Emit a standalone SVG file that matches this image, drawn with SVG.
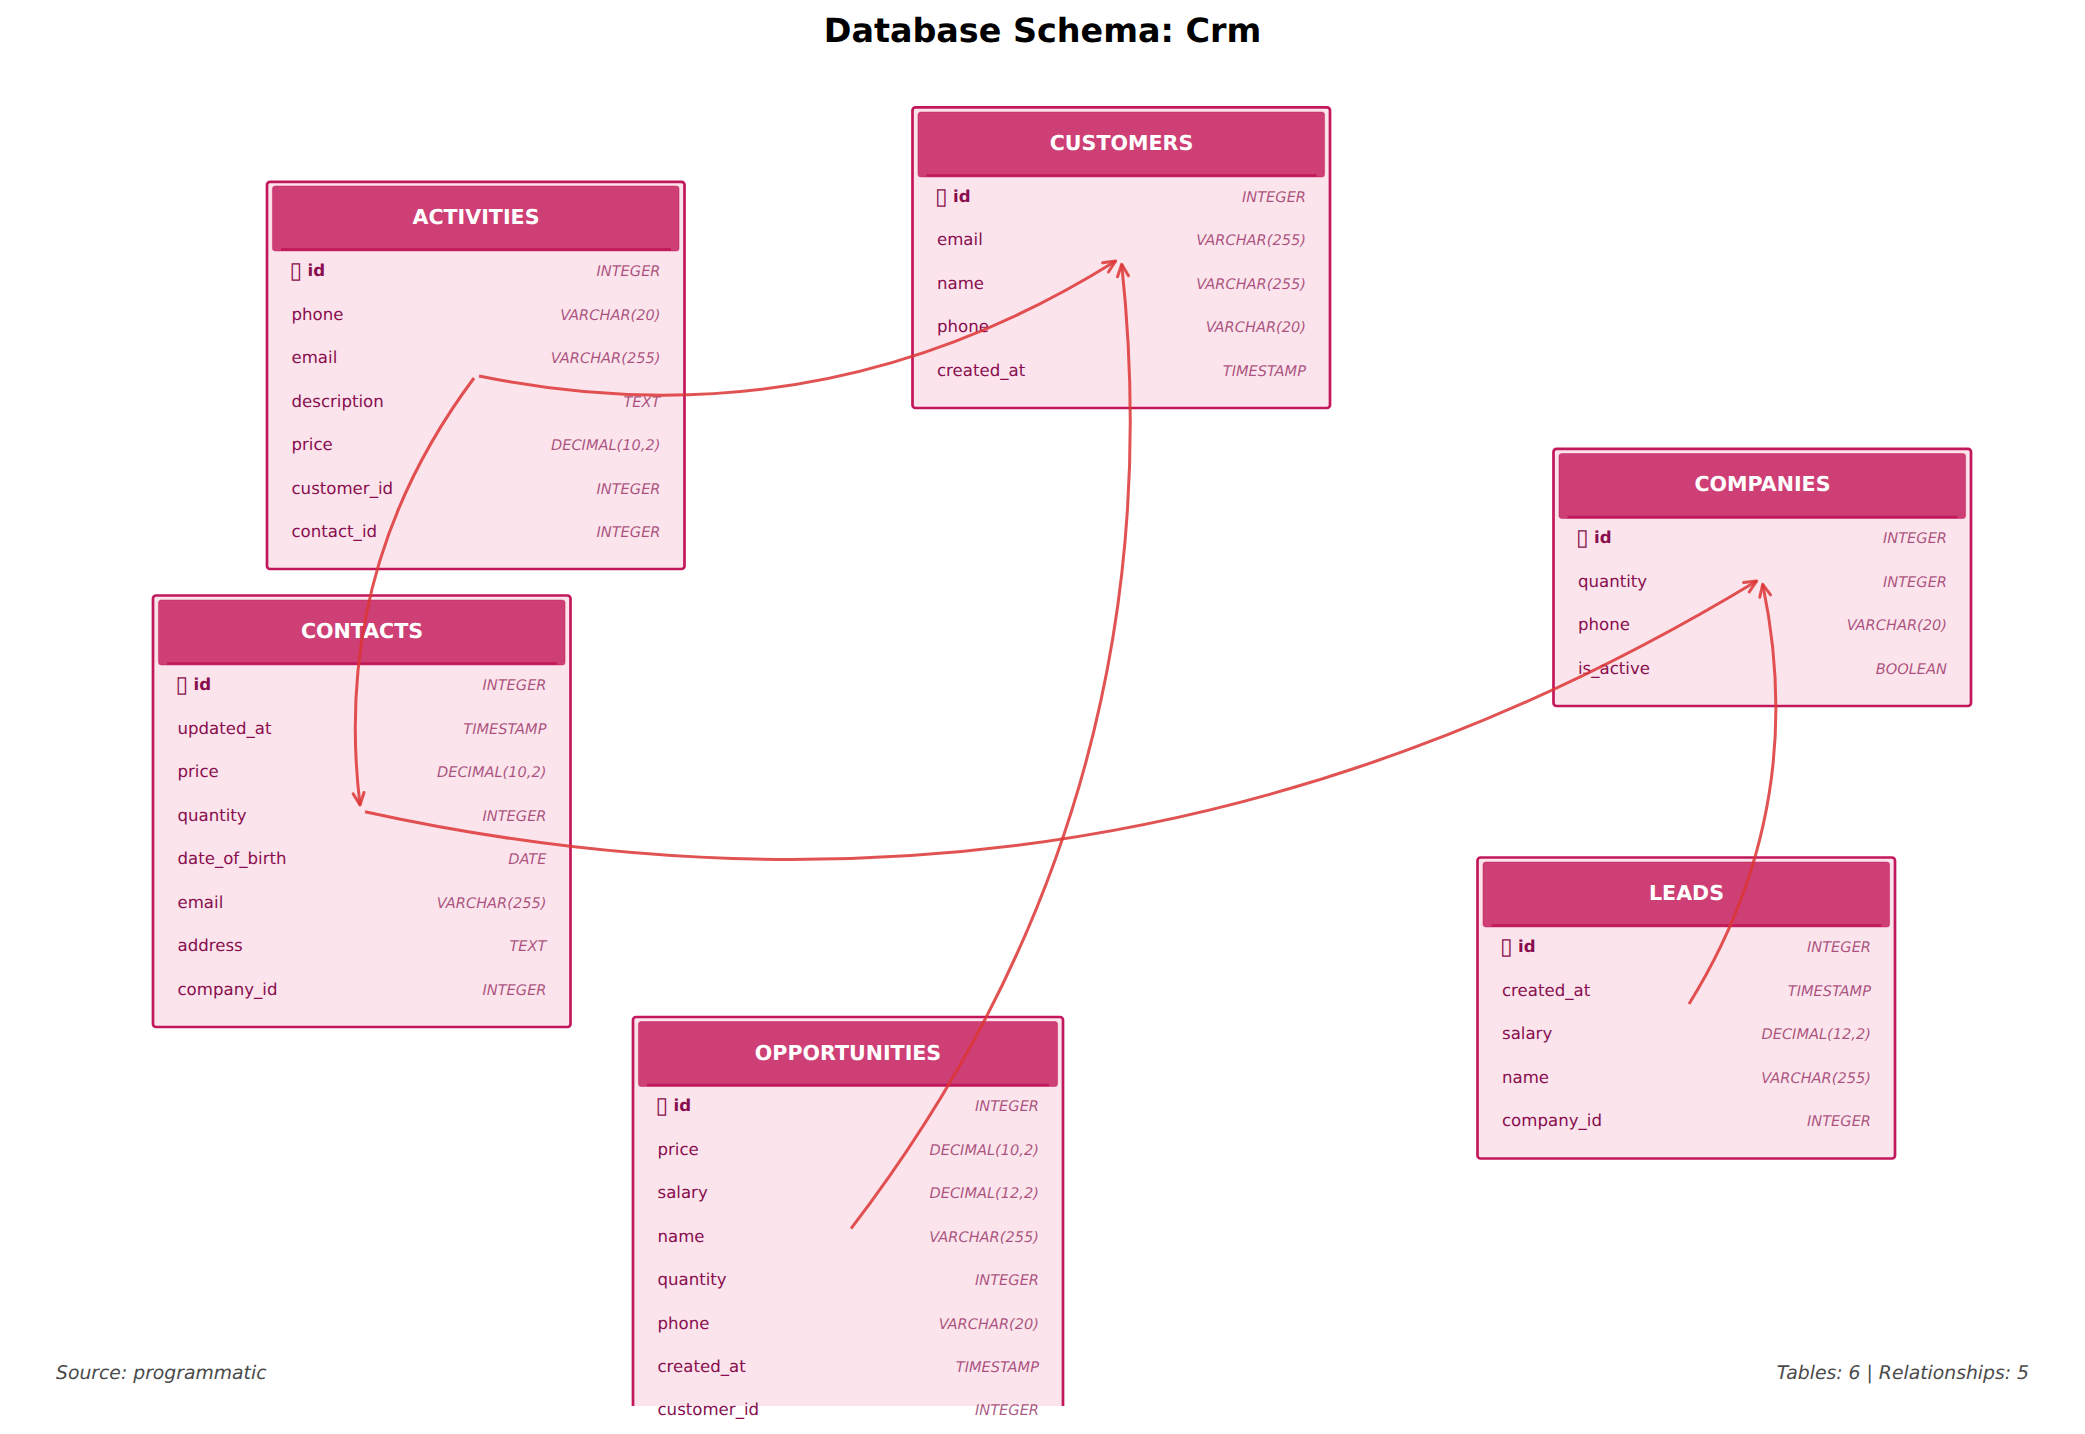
<svg xmlns="http://www.w3.org/2000/svg" width="2085" height="1434" viewBox="0 0 2085 1434">
<style>
text{font-family:"DejaVu Sans",sans-serif;text-rendering:geometricPrecision}
.box{fill:#fce4ec;stroke:#c2185b;stroke-width:2.7}
.hd{fill:#ce3f76;stroke:#c2185b;stroke-opacity:.45;stroke-width:1.2}
.hl{stroke:#c2185b;stroke-width:2.7;fill:none}
.ht{fill:#fff;font-weight:700;font-size:20.6px;text-anchor:middle}
.pk{fill:#880e4f;font-weight:700;font-size:16.6px}
.tf{font-weight:400;font-size:23px}
.f{fill:#880e4f;font-size:16.6px}
.ty{fill:#880e4f;fill-opacity:.7;font-style:italic;font-size:14.6px;text-anchor:end}
.c{fill:none;stroke:#dc3535;stroke-opacity:.85;stroke-width:3;marker-end:url(#ah)}
.foot{fill:#4a4a4a;font-style:italic;font-size:18.8px}
</style>
<defs>
<marker id="ah" markerUnits="userSpaceOnUse" markerWidth="30" markerHeight="30" refX="15" refY="15" orient="auto" overflow="visible"><path d="M3,9.500L15,15L3,20.500" fill="none" stroke="#dc3535" stroke-opacity=".85" stroke-width="3" stroke-linecap="round" stroke-linejoin="round"/></marker>
<clipPath id="cut"><rect x="0" y="0" width="2085" height="1406"/></clipPath>
</defs>
<rect width="2085" height="1434" fill="#fff"/>
<text x="1042.5" y="42" text-anchor="middle" font-size="33.4" font-weight="700" fill="#000">Database Schema: Crm</text>
<g id="activities" transform="translate(267,181)">
<rect class="box" y=".8" width="417.5" height="387.200" rx="3"/><rect class="hd" x="5.500" y="5" width="406.500" height="65" rx="3"/><path class="hl" d="M14,68.500H404"/>
<text class="ht" x="209" y="43">ACTIVITIES</text>
<text class="pk" x="22.500" y="95"><tspan class="tf" dy="2">▯</tspan><tspan x="40.500" dy="-2">id</tspan></text><text class="ty" x="393.500" y="95">INTEGER</text>
<text class="f" x="24.500" y="138.500">phone</text><text class="ty" x="393.500" y="138.500">VARCHAR(20)</text>
<text class="f" x="24.500" y="182">email</text><text class="ty" x="393.500" y="182">VARCHAR(255)</text>
<text class="f" x="24.500" y="225.500">description</text><text class="ty" x="393.500" y="225.500">TEXT</text>
<text class="f" x="24.500" y="269">price</text><text class="ty" x="393.500" y="269">DECIMAL(10,2)</text>
<text class="f" x="24.500" y="312.500">customer_id</text><text class="ty" x="393.500" y="312.500">INTEGER</text>
<text class="f" x="24.500" y="356">contact_id</text><text class="ty" x="393.500" y="356">INTEGER</text>
</g>
<g id="customers" transform="translate(912.500,106.500)">
<rect class="box" y=".8" width="417.5" height="300.700" rx="3"/><rect class="hd" x="5.500" y="5.500" width="406.500" height="65" rx="3"/><path class="hl" d="M14,69H404"/>
<text class="ht" x="209" y="43.300">CUSTOMERS</text>
<text class="pk" x="22.500" y="95"><tspan class="tf" dy="2">▯</tspan><tspan x="40.500" dy="-2">id</tspan></text><text class="ty" x="393.500" y="95">INTEGER</text>
<text class="f" x="24.500" y="138.500">email</text><text class="ty" x="393.500" y="138.500">VARCHAR(255)</text>
<text class="f" x="24.500" y="182">name</text><text class="ty" x="393.500" y="182">VARCHAR(255)</text>
<text class="f" x="24.500" y="225.500">phone</text><text class="ty" x="393.500" y="225.500">VARCHAR(20)</text>
<text class="f" x="24.500" y="269">created_at</text><text class="ty" x="393.500" y="269">TIMESTAMP</text>
</g>
<g id="companies" transform="translate(1553.500,448)">
<rect class="box" y=".8" width="417.5" height="257.200" rx="3"/><rect class="hd" x="5.500" y="5.500" width="406.500" height="65" rx="3"/><path class="hl" d="M14,69H404"/>
<text class="ht" x="209" y="43.300">COMPANIES</text>
<text class="pk" x="22.500" y="95"><tspan class="tf" dy="2">▯</tspan><tspan x="40.500" dy="-2">id</tspan></text><text class="ty" x="393.500" y="95">INTEGER</text>
<text class="f" x="24.500" y="138.500">quantity</text><text class="ty" x="393.500" y="138.500">INTEGER</text>
<text class="f" x="24.500" y="182">phone</text><text class="ty" x="393.500" y="182">VARCHAR(20)</text>
<text class="f" x="24.500" y="225.500">is_active</text><text class="ty" x="393.500" y="225.500">BOOLEAN</text>
</g>
<g id="contacts" transform="translate(153,595)">
<rect class="box" y=".5" width="417.5" height="431.500" rx="3"/><rect class="hd" x="5.500" y="5" width="406.500" height="65" rx="3"/><path class="hl" d="M14,68.500H404"/>
<text class="ht" x="209" y="43.300">CONTACTS</text>
<text class="pk" x="22.500" y="95"><tspan class="tf" dy="2">▯</tspan><tspan x="40.500" dy="-2">id</tspan></text><text class="ty" x="393.500" y="95">INTEGER</text>
<text class="f" x="24.500" y="138.500">updated_at</text><text class="ty" x="393.500" y="138.500">TIMESTAMP</text>
<text class="f" x="24.500" y="182">price</text><text class="ty" x="393.500" y="182">DECIMAL(10,2)</text>
<text class="f" x="24.500" y="225.500">quantity</text><text class="ty" x="393.500" y="225.500">INTEGER</text>
<text class="f" x="24.500" y="269">date_of_birth</text><text class="ty" x="393.500" y="269">DATE</text>
<text class="f" x="24.500" y="312.500">email</text><text class="ty" x="393.500" y="312.500">VARCHAR(255)</text>
<text class="f" x="24.500" y="356">address</text><text class="ty" x="393.500" y="356">TEXT</text>
<text class="f" x="24.500" y="399.500">company_id</text><text class="ty" x="393.500" y="399.500">INTEGER</text>
</g>
<g id="opportunities">
<g clip-path="url(#cut)"><rect class="box" x="633" y="1017" width="430" height="432" rx="3"/><rect class="hd" x="638.500" y="1021.500" width="419" height="65" rx="3"/><path class="hl" d="M647,1085H1049"/></g>
<g transform="translate(633,1016)">
<text class="ht" x="215" y="43.500">OPPORTUNITIES</text>
<text class="pk" x="22.500" y="95"><tspan class="tf" dy="2">▯</tspan><tspan x="40.500" dy="-2">id</tspan></text><text class="ty" x="406" y="95">INTEGER</text>
<text class="f" x="24.500" y="138.500">price</text><text class="ty" x="406" y="138.500">DECIMAL(10,2)</text>
<text class="f" x="24.500" y="182">salary</text><text class="ty" x="406" y="182">DECIMAL(12,2)</text>
<text class="f" x="24.500" y="225.500">name</text><text class="ty" x="406" y="225.500">VARCHAR(255)</text>
<text class="f" x="24.500" y="269">quantity</text><text class="ty" x="406" y="269">INTEGER</text>
<text class="f" x="24.500" y="312.500">phone</text><text class="ty" x="406" y="312.500">VARCHAR(20)</text>
<text class="f" x="24.500" y="356">created_at</text><text class="ty" x="406" y="356">TIMESTAMP</text>
<text class="f" x="24.500" y="399">customer_id</text><text class="ty" x="406" y="399">INTEGER</text>
</g>
</g>
<g id="leads" transform="translate(1477.500,857)">
<rect class="box" y=".5" width="417.5" height="301" rx="3"/><rect class="hd" x="5.500" y="5" width="406.500" height="65" rx="3"/><path class="hl" d="M14,68.500H404"/>
<text class="ht" x="209" y="43">LEADS</text>
<text class="pk" x="22.500" y="95"><tspan class="tf" dy="2">▯</tspan><tspan x="40.500" dy="-2">id</tspan></text><text class="ty" x="393.500" y="95">INTEGER</text>
<text class="f" x="24.500" y="138.500">created_at</text><text class="ty" x="393.500" y="138.500">TIMESTAMP</text>
<text class="f" x="24.500" y="182">salary</text><text class="ty" x="393.500" y="182">DECIMAL(12,2)</text>
<text class="f" x="24.500" y="225.500">name</text><text class="ty" x="393.500" y="225.500">VARCHAR(255)</text>
<text class="f" x="24.500" y="269">company_id</text><text class="ty" x="393.500" y="269">INTEGER</text>
</g>
<g id="connectors">
<path class="c" d="M479,376Q820.400,445.800 1115.700,261"/>
<path class="c" d="M474,378Q331.600,568.700 360,805"/>
<path class="c" d="M851,1228.600Q1179.200,800.600 1121.700,264.300"/>
<path class="c" d="M365,811.700Q1107,974.700 1756.700,581"/>
<path class="c" d="M1689,1004Q1809.800,808.900 1762.700,584.300"/>
</g>
<text class="foot" x="56" y="1379">Source: programmatic</text>
<text class="foot" x="2029" y="1379" text-anchor="end">Tables: 6 | Relationships: 5</text>
</svg>
